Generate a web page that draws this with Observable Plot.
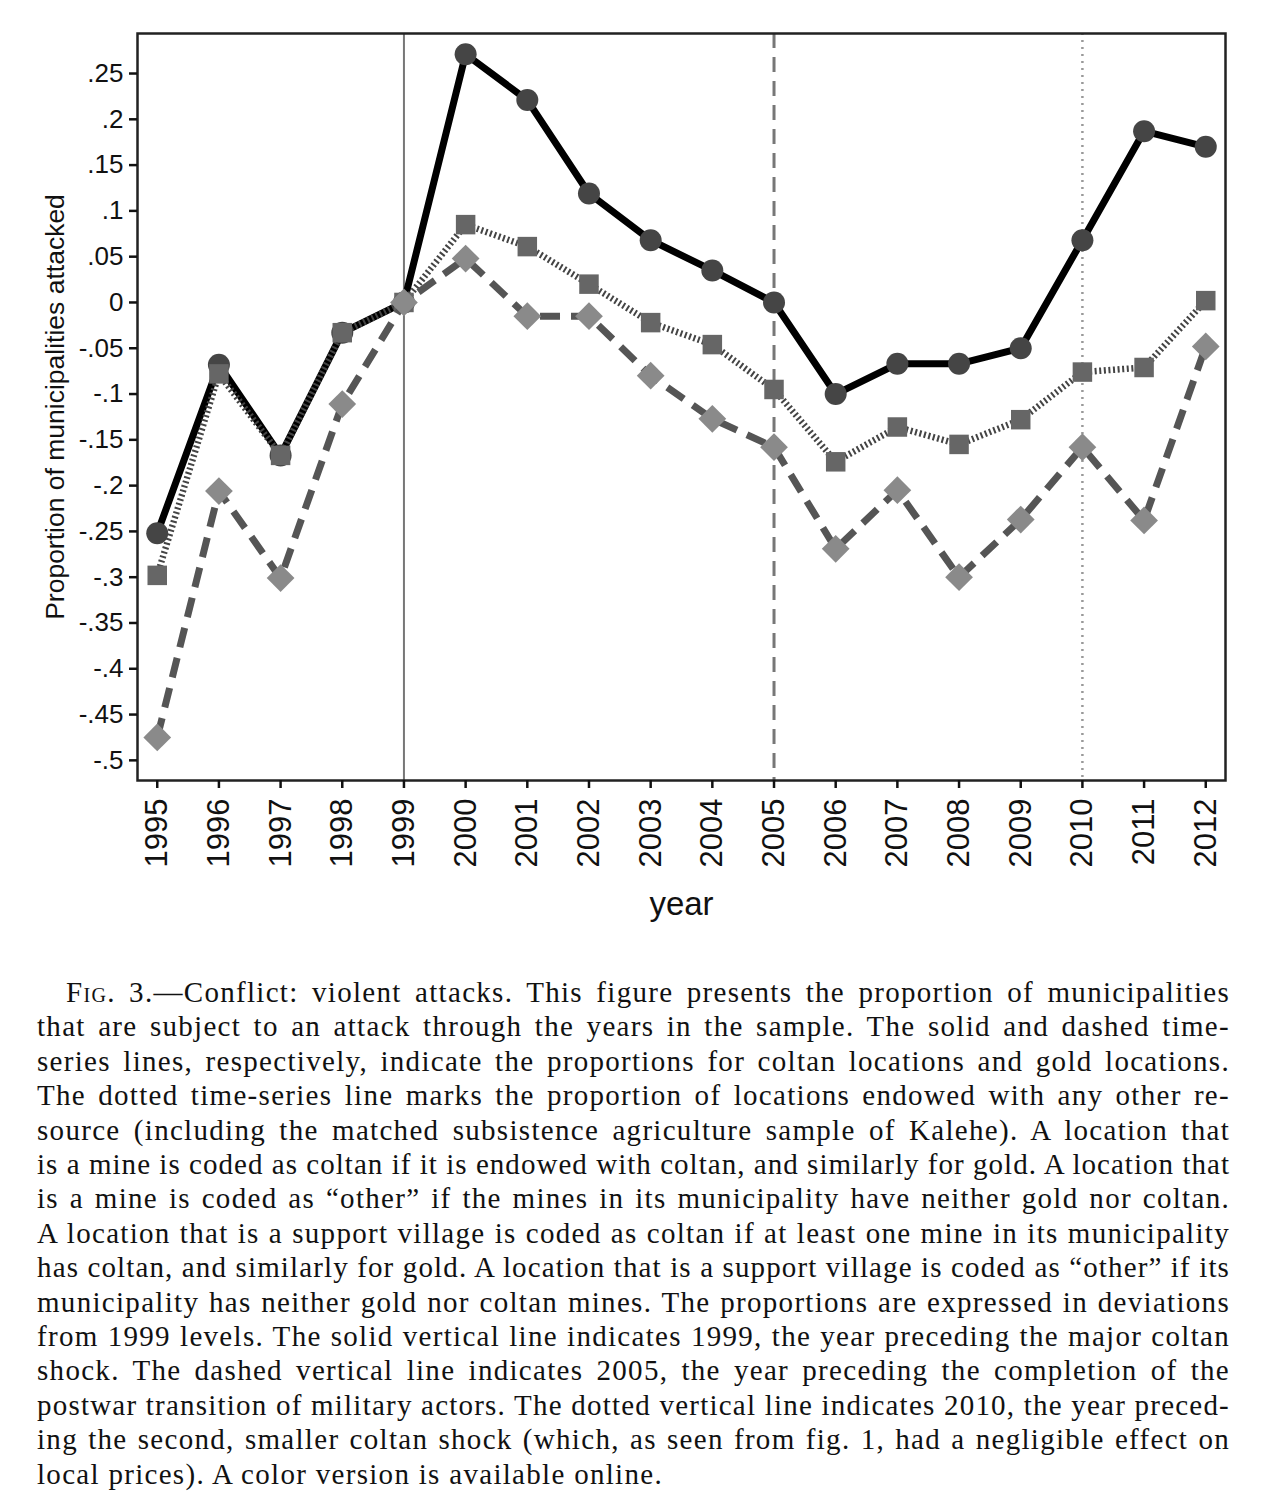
<!DOCTYPE html>
<html>
<head>
<meta charset="utf-8">
<script src="https://cdn.jsdelivr.net/npm/d3@7"></script>
<script src="https://cdn.jsdelivr.net/npm/@observablehq/plot@0.6"></script>
<style>
  body { margin: 0; background: #fff; }
  #chart svg { display: block; }
  #caption {
    position: relative;
    margin: 30px 0 0 37px;
    width: 1193px;
    font-family: "Liberation Serif", "Times New Roman", serif;
    font-size: 29px;
    line-height: 34.4px;
    color: #111;
  }
  #caption .ln { white-space: nowrap; text-align: justify; text-align-last: justify; }
  #caption .ln.last { text-align-last: left; }
  #caption .ln.first { padding-left: 29px; }
  .sc { font-variant: small-caps; }
</style>
</head>
<body>
<div id="chart"></div>
<div id="caption"></div>
<script>
// ---- data ----
const years = [1995,1996,1997,1998,1999,2000,2001,2002,2003,2004,2005,2006,2007,2008,2009,2010,2011,2012];
const coltan = [-0.252,-0.068,-0.167,-0.033,0,0.271,0.221,0.119,0.068,0.035,0,-0.100,-0.067,-0.067,-0.050,0.068,0.187,0.170];
const other  = [-0.298,-0.078,-0.167,-0.033,0,0.085,0.061,0.020,-0.022,-0.046,-0.095,-0.174,-0.136,-0.155,-0.128,-0.076,-0.071,0.002];
const gold   = [-0.475,-0.206,-0.301,-0.111,0,0.048,-0.015,-0.015,-0.080,-0.127,-0.158,-0.269,-0.205,-0.300,-0.237,-0.158,-0.238,-0.048];
const yTicks = [0.25,0.2,0.15,0.1,0.05,0,-0.05,-0.1,-0.15,-0.2,-0.25,-0.3,-0.35,-0.4,-0.45,-0.5];
const refSolid = [1999];
const refDashed = [2005];
const refDotted = [2010];
const yLabel = "Proportion of municipalities attacked";
const xLabel = "year";

const captionLines = [
  '<span class="sc">Fig.</span> 3.—Conflict: violent attacks. This figure presents the proportion of municipalities',
  'that are subject to an attack through the years in the sample. The solid and dashed time-',
  'series lines, respectively, indicate the proportions for coltan locations and gold locations.',
  'The dotted time-series line marks the proportion of locations endowed with any other re-',
  'source (including the matched subsistence agriculture sample of Kalehe). A location that',
  'is a mine is coded as coltan if it is endowed with coltan, and similarly for gold. A location that',
  'is a mine is coded as “other” if the mines in its municipality have neither gold nor coltan.',
  'A location that is a support village is coded as coltan if at least one mine in its municipality',
  'has coltan, and similarly for gold. A location that is a support village is coded as “other” if its',
  'municipality has neither gold nor coltan mines. The proportions are expressed in deviations',
  'from 1999 levels. The solid vertical line indicates 1999, the year preceding the major coltan',
  'shock. The dashed vertical line indicates 2005, the year preceding the completion of the',
  'postwar transition of military actors. The dotted vertical line indicates 2010, the year preced-',
  'ing the second, smaller coltan shock (which, as seen from fig. 1, had a negligible effect on',
  'local prices). A color version is available online.'
];

const rows = (vals) => years.map((y, i) => ({year: y, value: vals[i]}));
const fmt = d => d === 0 ? "0" : String(Math.round(d * 100) / 100).replace(/^(-?)0\./, "$1.");

const plot = Plot.plot({
  width: 1272,
  height: 945,
  marginLeft: 137,
  marginRight: 47,
  marginTop: 33,
  marginBottom: 165,
  style: {fontFamily: "'Liberation Sans', Arial, sans-serif", fontSize: "26px", color: "#111", background: "#fff"},
  x: {domain: [1994.68, 2012.32]},
  y: {domain: [-0.522, 0.2937]},
  marks: [
    Plot.ruleX(refSolid, {stroke: "#777", strokeWidth: 2}),
    Plot.ruleX(refDashed, {stroke: "#777", strokeWidth: 3, strokeDasharray: "15,9"}),
    Plot.ruleX(refDotted, {stroke: "#999", strokeWidth: 2.5, strokeDasharray: "2,5"}),
    Plot.line(rows(coltan), {x: "year", y: "value", stroke: "#000", strokeWidth: 7, strokeLinecap: "butt", strokeLinejoin: "miter"}),
    Plot.dot(rows(coltan), {x: "year", y: "value", symbol: "circle", r: 11, fill: "#454545", stroke: "none"}),
    Plot.line(rows(other), {x: "year", y: "value", stroke: "#444", strokeWidth: 6.5, strokeLinecap: "butt", strokeDasharray: "2,2.6"}),
    Plot.dot(rows(other), {x: "year", y: "value", symbol: "square", r: 11, fill: "#666", stroke: "none"}),
    Plot.line(rows(gold), {x: "year", y: "value", stroke: "#555", strokeWidth: 7, strokeLinecap: "butt", strokeDasharray: "20,11"}),
    Plot.dot(rows(gold), {x: "year", y: "value", symbol: "diamond2", r: 12.5, fill: "#8a8a8a", stroke: "none"}),
    Plot.frame({stroke: "#222", strokeWidth: 2.5}),
    Plot.axisY({ticks: yTicks, tickFormat: fmt, tickSize: 8, tickPadding: 6, fontSize: 26, label: null, strokeWidth: 2.5}),
    Plot.axisX({ticks: years, tickFormat: d => String(d), tickRotate: -90, tickSize: 8, tickPadding: 10, fontSize: 31, label: null, strokeWidth: 2.5}),
    Plot.text([yLabel], {frameAnchor: "left", dx: -82, rotate: -90, textAnchor: "middle", fontSize: 26.5, fill: "#111"}),
    Plot.text([xLabel], {frameAnchor: "bottom", dy: 134, fontSize: 33, fill: "#111"})
  ]
});
document.getElementById("chart").appendChild(plot);

const cap = document.getElementById("caption");
const target = 1193;
captionLines.forEach((t, i) => {
  const d = document.createElement("div");
  const isFirst = i === 0, isLast = i === captionLines.length - 1;
  d.className = "ln" + (isFirst ? " first" : "") + (isLast ? " last" : "");
  const s = document.createElement("span");
  s.innerHTML = t;
  s.style.display = "inline-block";
  d.appendChild(s);
  cap.appendChild(d);
  const avail = target - (isFirst ? 29 : 0);
  const w = s.getBoundingClientRect().width;
  const n = s.textContent.length;
  let ls = 1.3;
  if (!isLast) ls = Math.min(1.3, (avail - w) / n);
  d.style.letterSpacing = ls.toFixed(3) + "px";
  d.innerHTML = t;
});
</script>
</body>
</html>
